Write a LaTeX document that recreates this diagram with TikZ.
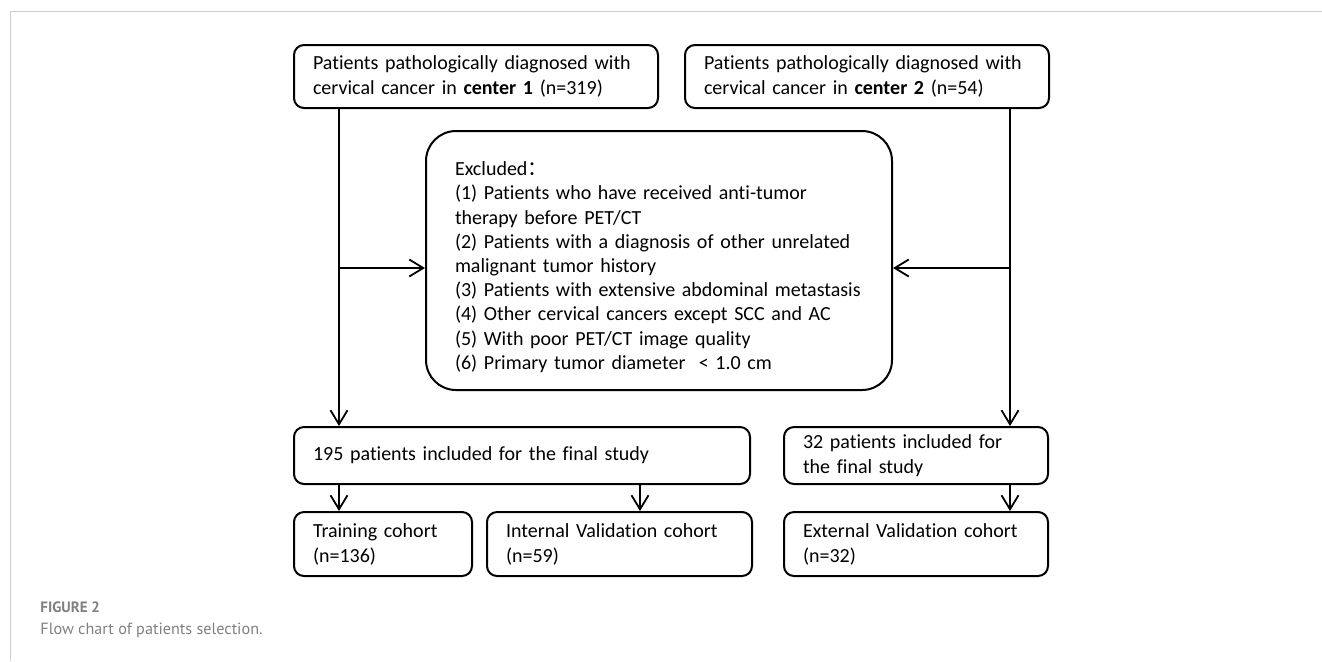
\documentclass[tikz,border=0pt]{standalone}
\usepackage{fontspec}
\setmainfont[Ligatures=NoCommon]{Carlito}
\newfontfamily\cjk{Noto Sans CJK SC}
\newfontfamily\capfont{PT Sans}
\usetikzlibrary{positioning,calc,arrows.meta}
\definecolor{capgray}{RGB}{128,128,128}
\definecolor{framegray}{RGB}{205,205,205}
\tikzset{
  wire/.style  = {line width=0.9pt},
  arr/.style   = {line width=0.9pt, -{Straight Barb[length=7pt,width=8.5pt,line width=0.9pt]}},
  pbox/.style  = {draw, line width=1pt, rounded corners=5pt, align=left,
                  inner xsep=9.5pt, inner ysep=0pt,
                  font=\fontsize{10}{12.5}\selectfont},
  xbox/.style  = {draw, line width=1pt, rounded corners=15pt, align=left,
                  inner xsep=14.5pt, inner ysep=0pt,
                  font=\fontsize{10}{12.1}\selectfont},
  caphead/.style = {font=\capfont\bfseries\fontsize{7.5}{9}\selectfont,
                    text=capgray, inner sep=0pt},
  captext/.style = {font=\capfont\fontsize{8.1}{10}\selectfont,
                    text=capgray, inner sep=0pt},
}

\begin{document}
\begin{tikzpicture}[x=0.5pt,y=-0.5pt]
  \useasboundingbox (0,0) rectangle (1322,661);
  % frame of the figure panel
  \draw[framegray, line width=0.5pt] (10,661) -- (10,11) -- (1322,11);
  % the two centres
  \node[pbox, text width=163pt, minimum height=31.5pt] (cen1) at (476,76.5)
    {Patients pathologically diagnosed with\\cervical cancer in \textbf{center 1} (n=319)};
  \node[pbox, text width=163pt, minimum height=31.5pt] (cen2) at (867,76.5)
    {Patients pathologically diagnosed with\\cervical cancer in \textbf{center 2} (n=54)};
  % exclusion criteria
  \node[xbox, text width=204pt, minimum height=129.5pt] (excl) at (659,260.5)
    {\rule{0pt}{13.5pt}Excluded{\cjk ：}\\
     (1) Patients who have received anti-tumor\\therapy before PET/CT\\
     (2) Patients with a diagnosis of other unrelated\\malignant tumor history\\
     (3) Patients with extensive abdominal metastasis\\
     (4) Other cervical cancers except SCC and AC\\
     (5) With poor PET/CT image quality\\
     (6) Primary tumor diameter~~\textless\ 1.0 cm};
  % included
  \node[pbox, text width=209pt, minimum height=28.5pt] (inc1) at (522,455.5)
    {195 patients included for the final study};
  \node[pbox, text width=113pt, minimum height=28.5pt] (inc2) at (916,455.5)
    {32 patients included for\\the final study};
  % cohorts
  \node[pbox, text width=70pt, minimum height=32pt] (train) at (383,544)
    {Training cohort\\(n=136)};
  \node[pbox, text width=113.5pt, minimum height=32pt] (ival) at (619.5,544)
    {Internal Validation cohort\\(n=59)};
  \node[pbox, text width=113pt, minimum height=32pt] (eval) at (916,544)
    {External Validation cohort\\(n=32)};
  % trunk lines
  \coordinate (lv) at (339,268);
  \coordinate (rv) at (1010,268);
  \coordinate (mv) at (640,498);
  \draw[arr] (cen1.south -| lv) -- (inc1.north -| lv);
  \draw[arr] (cen2.south -| rv) -- (inc2.north -| rv);
  \draw[arr] (lv) -- (excl.west |- lv);
  \draw[arr] (rv) -- (excl.east |- rv);
  \draw[arr] (inc1.south -| lv) -- (train.north -| lv);
  \draw[arr] (inc1.south -| mv) -- (ival.north -| mv);
  \draw[arr] (inc2.south -| rv) -- (eval.north -| rv);
  % caption
  \node[caphead, anchor=base west] (fig) at (40,612) {FIGURE 2};
  \node[captext, anchor=base west] (cap) at (40,634) {Flow chart of patients selection.};
\end{tikzpicture}
\end{document}
